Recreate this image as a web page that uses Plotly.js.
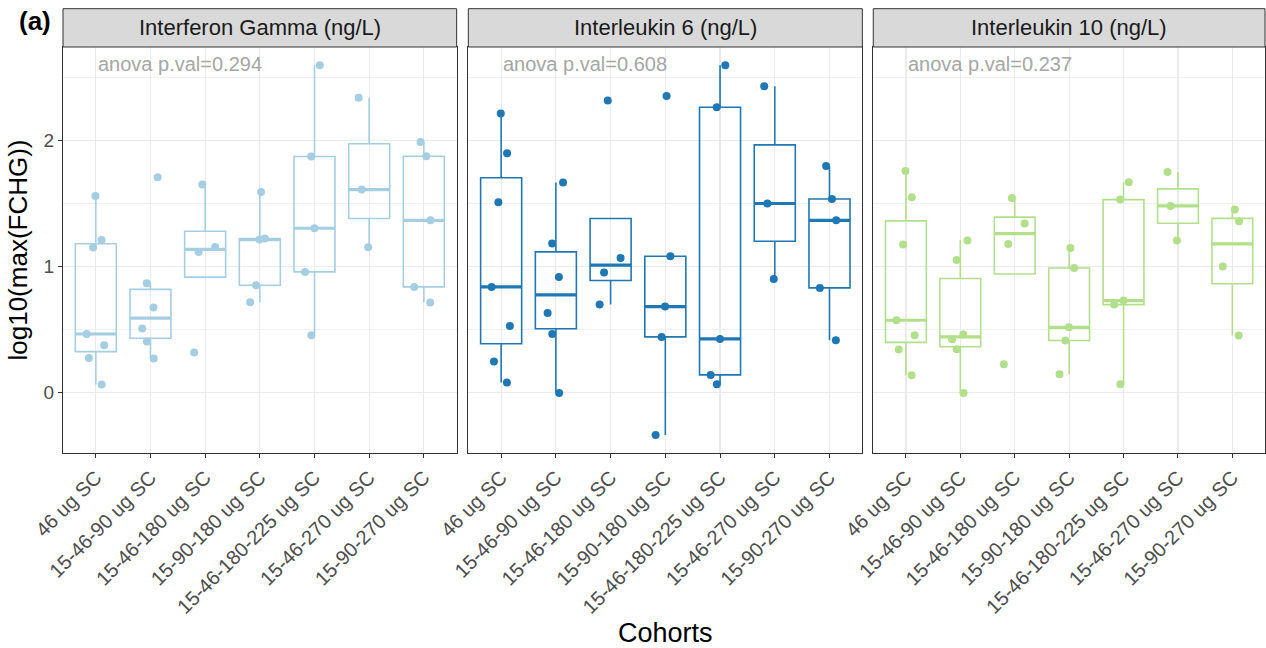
<!DOCTYPE html>
<html>
<head>
<meta charset="utf-8">
<script src="https://cdn.plot.ly/plotly-3.0.1.min.js"></script>
<style>html,body{margin:0;padding:0;background:#fff;}#chart{width:1266px;height:648px;}</style>
</head>
<body>
<div id="chart"></div>
<script>
// ---- data ----
const cohorts = ["46 ug SC", "15-46-90 ug SC", "15-46-180 ug SC", "15-90-180 ug SC",
                 "15-46-180-225 ug SC", "15-46-270 ug SC", "15-90-270 ug SC"];

const panelTitles = ["Interferon Gamma (ng/L)", "Interleukin 6 (ng/L)", "Interleukin 10 (ng/L)"];
const anovaPvals = ["0.294", "0.608", "0.237"];
const panelColors = ["#a6cee3", "#1f78b4", "#b2df8a"];

// log10(max(FCHG)) per cohort
const ifnGamma = [
  [1.558, 1.209, 1.149, 0.464, 0.375, 0.274, 0.063],
  [1.706, 0.866, 0.673, 0.507, 0.404, 0.269],
  [1.648, 1.154, 1.114, 0.317],
  [1.590, 1.212, 1.220, 0.850, 0.716],
  [2.593, 1.870, 1.302, 0.956, 0.454],
  [2.335, 1.608, 1.151],
  [1.986, 1.872, 1.365, 0.837, 0.713]
];
const il6 = [
  [2.211, 1.896, 1.508, 0.837, 0.528, 0.246, 0.079],
  [1.664, 1.181, 0.916, 0.631, 0.464, -0.003],
  [2.314, 1.067, 0.951, 0.697],
  [2.350, 1.080, 0.681, 0.441, -0.336],
  [2.593, 2.261, 0.425, 0.140, 0.066],
  [2.427, 1.498, 0.900],
  [1.796, 1.534, 1.365, 0.829, 0.414]
];
const il10 = [
  [1.756, 1.548, 1.173, 0.573, 0.454, 0.341, 0.137],
  [1.204, 1.051, 0.460, 0.422, 0.343, -0.003],
  [1.542, 1.339, 1.178, 0.224],
  [1.146, 0.987, 0.517, 0.412, 0.145],
  [1.666, 1.529, 0.729, 0.697, 0.066],
  [1.748, 1.479, 1.204],
  [1.450, 1.357, 0.998, 0.452]
];
const panelData = [ifnGamma, il6, il10];

// ---- helpers (ggplot-style boxplot statistics, quantile type 7) ----
function q7(s, p) {
  const h = (s.length - 1) * p, lo = Math.floor(h), hi = Math.min(lo + 1, s.length - 1);
  return s[lo] + (h - lo) * (s[hi] - s[lo]);
}
function boxStats(vals) {
  const s = vals.slice().sort((a, b) => a - b);
  const q1 = q7(s, 0.25), med = q7(s, 0.5), q3 = q7(s, 0.75), iqr = q3 - q1;
  const lf = Math.min(q1, ...s.filter(v => v >= q1 - 1.5 * iqr));
  const uf = Math.max(q3, ...s.filter(v => v <= q3 + 1.5 * iqr));
  return {q1, med, q3, lf, uf};
}

const FONT = "Liberation Sans, Arial, Helvetica, sans-serif";
const plotL = 63, plotR = 1265, plotT = 47, plotB = 453;
const W = plotR - plotL, H = plotB - plotT;
const px2x = px => (px - plotL) / W;
const px2y = py => (plotB - py) / H;

const domains = [[0, 0.3275], [0.3372, 0.6650], [0.6741, 1]];
const yRange = [-0.479, 2.738];
const BOXW = 0.75;

const traces = [];
const annotations = [];
const shapes = [];
const layout = {
  width: 1266, height: 648,
  margin: {l: plotL, r: 1266 - plotR, t: plotT, b: 648 - plotB},
  paper_bgcolor: "#ffffff", plot_bgcolor: "#ffffff",
  font: {family: FONT, color: "#4d4d4d"},
  showlegend: false,
  boxmode: "overlay", boxgap: 0.25,
  hovermode: false
};

panelData.forEach((groups, i) => {
  const sfx = i === 0 ? "" : String(i + 1);
  const xa = "x" + sfx, ya = "y" + sfx;
  const color = panelColors[i];
  const st = groups.map(boxStats);

  // box + whiskers
  traces.push({
    type: "box", x: cohorts, xaxis: xa, yaxis: ya, width: BOXW,
    q1: st.map(d => d.q1), median: st.map(d => d.med), q3: st.map(d => d.q3),
    lowerfence: st.map(d => d.lf), upperfence: st.map(d => d.uf),
    boxpoints: false, whiskerwidth: 0,
    line: {color: color, width: 1.6}, fillcolor: "rgba(0,0,0,0)"
  });
  // thicker median line
  traces.push({
    type: "box", x: cohorts, xaxis: xa, yaxis: ya, width: BOXW,
    q1: st.map(d => d.med), median: st.map(d => d.med), q3: st.map(d => d.med),
    lowerfence: st.map(d => d.med), upperfence: st.map(d => d.med),
    boxpoints: false, whiskerwidth: 0,
    line: {color: color, width: 3.2}, fillcolor: "rgba(0,0,0,0)"
  });
  // jittered points
  const xs = [], ys = [];
  groups.forEach((vals, k) => vals.forEach(v => { xs.push(cohorts[k]); ys.push(v); }));
  traces.push({
    type: "box", x: xs, y: ys, xaxis: xa, yaxis: ya, width: BOXW,
    boxpoints: "all", jitter: 0.55, pointpos: 0, whiskerwidth: 0,
    line: {color: "rgba(0,0,0,0)", width: 0}, fillcolor: "rgba(0,0,0,0)",
    marker: {color: color, size: 8, opacity: 1}
  });

  layout["xaxis" + sfx] = {
    domain: domains[i], anchor: ya,
    type: "category", categoryorder: "array", categoryarray: cohorts,
    range: [-0.6, 6.6],
    showline: true, mirror: true, linecolor: "#333333", linewidth: 1,
    showgrid: true, gridcolor: "#ebebeb", gridwidth: 1.2, zeroline: false,
    ticks: "outside", ticklen: 4, tickwidth: 1, tickcolor: "#333333",
    tickangle: -45, tickfont: {family: FONT, size: 20, color: "#4d4d4d"}
  };
  layout["yaxis" + sfx] = {
    anchor: xa, range: yRange,
    showline: true, mirror: true, linecolor: "#333333", linewidth: 1,
    showgrid: true, gridcolor: "#ebebeb", gridwidth: 1.2, zeroline: false,
    tickvals: [0, 1, 2],
    ticks: i === 0 ? "outside" : "", ticklen: 4, tickwidth: 1, tickcolor: "#333333",
    showticklabels: i === 0,
    tickfont: {family: FONT, size: 19, color: "#4d4d4d"},
    minor: {tickvals: [-0.5, 0.5, 1.5, 2.5], showgrid: true, gridcolor: "#ebebeb", gridwidth: 0.7, ticks: ""}
  };
  if (i > 0) layout["yaxis" + sfx].matches = "y";

  // strip
  shapes.push({
    type: "rect", xref: xa + " domain", yref: "paper",
    x0: 0, x1: 1, y0: 1, y1: px2y(8.7),
    fillcolor: "#d9d9d9", line: {color: "#333333", width: 1}, layer: "above"
  });
  annotations.push({
    xref: xa + " domain", yref: "paper", x: 0.5, y: px2y(28),
    text: panelTitles[i], showarrow: false, xanchor: "center", yanchor: "middle",
    font: {family: FONT, size: 22, color: "#1a1a1a"}
  });
  // anova p-value
  annotations.push({
    xref: xa, yref: ya, x: 0, y: 2.6,
    text: "anova p.val=" + anovaPvals[i], showarrow: false, xanchor: "left", yanchor: "middle",
    font: {family: FONT, size: 20, color: "#a6a6a6"}
  });
});

layout.yaxis.title = {text: "log10(max(FCHG))", font: {family: FONT, size: 26, color: "#000000"}, standoff: 8};
layout.xaxis2.title = {text: "Cohorts", font: {family: FONT, size: 27, color: "#000000"}, standoff: 10};

annotations.push({
  xref: "paper", yref: "paper", x: px2x(17), y: px2y(21),
  text: "<b>(a)</b>", showarrow: false, xanchor: "left", yanchor: "middle",
  font: {family: FONT, size: 26, color: "#000000"}
});

layout.annotations = annotations;
layout.shapes = shapes;

Plotly.newPlot("chart", traces, layout, {staticPlot: true, displayModeBar: false});
</script>
</body>
</html>
